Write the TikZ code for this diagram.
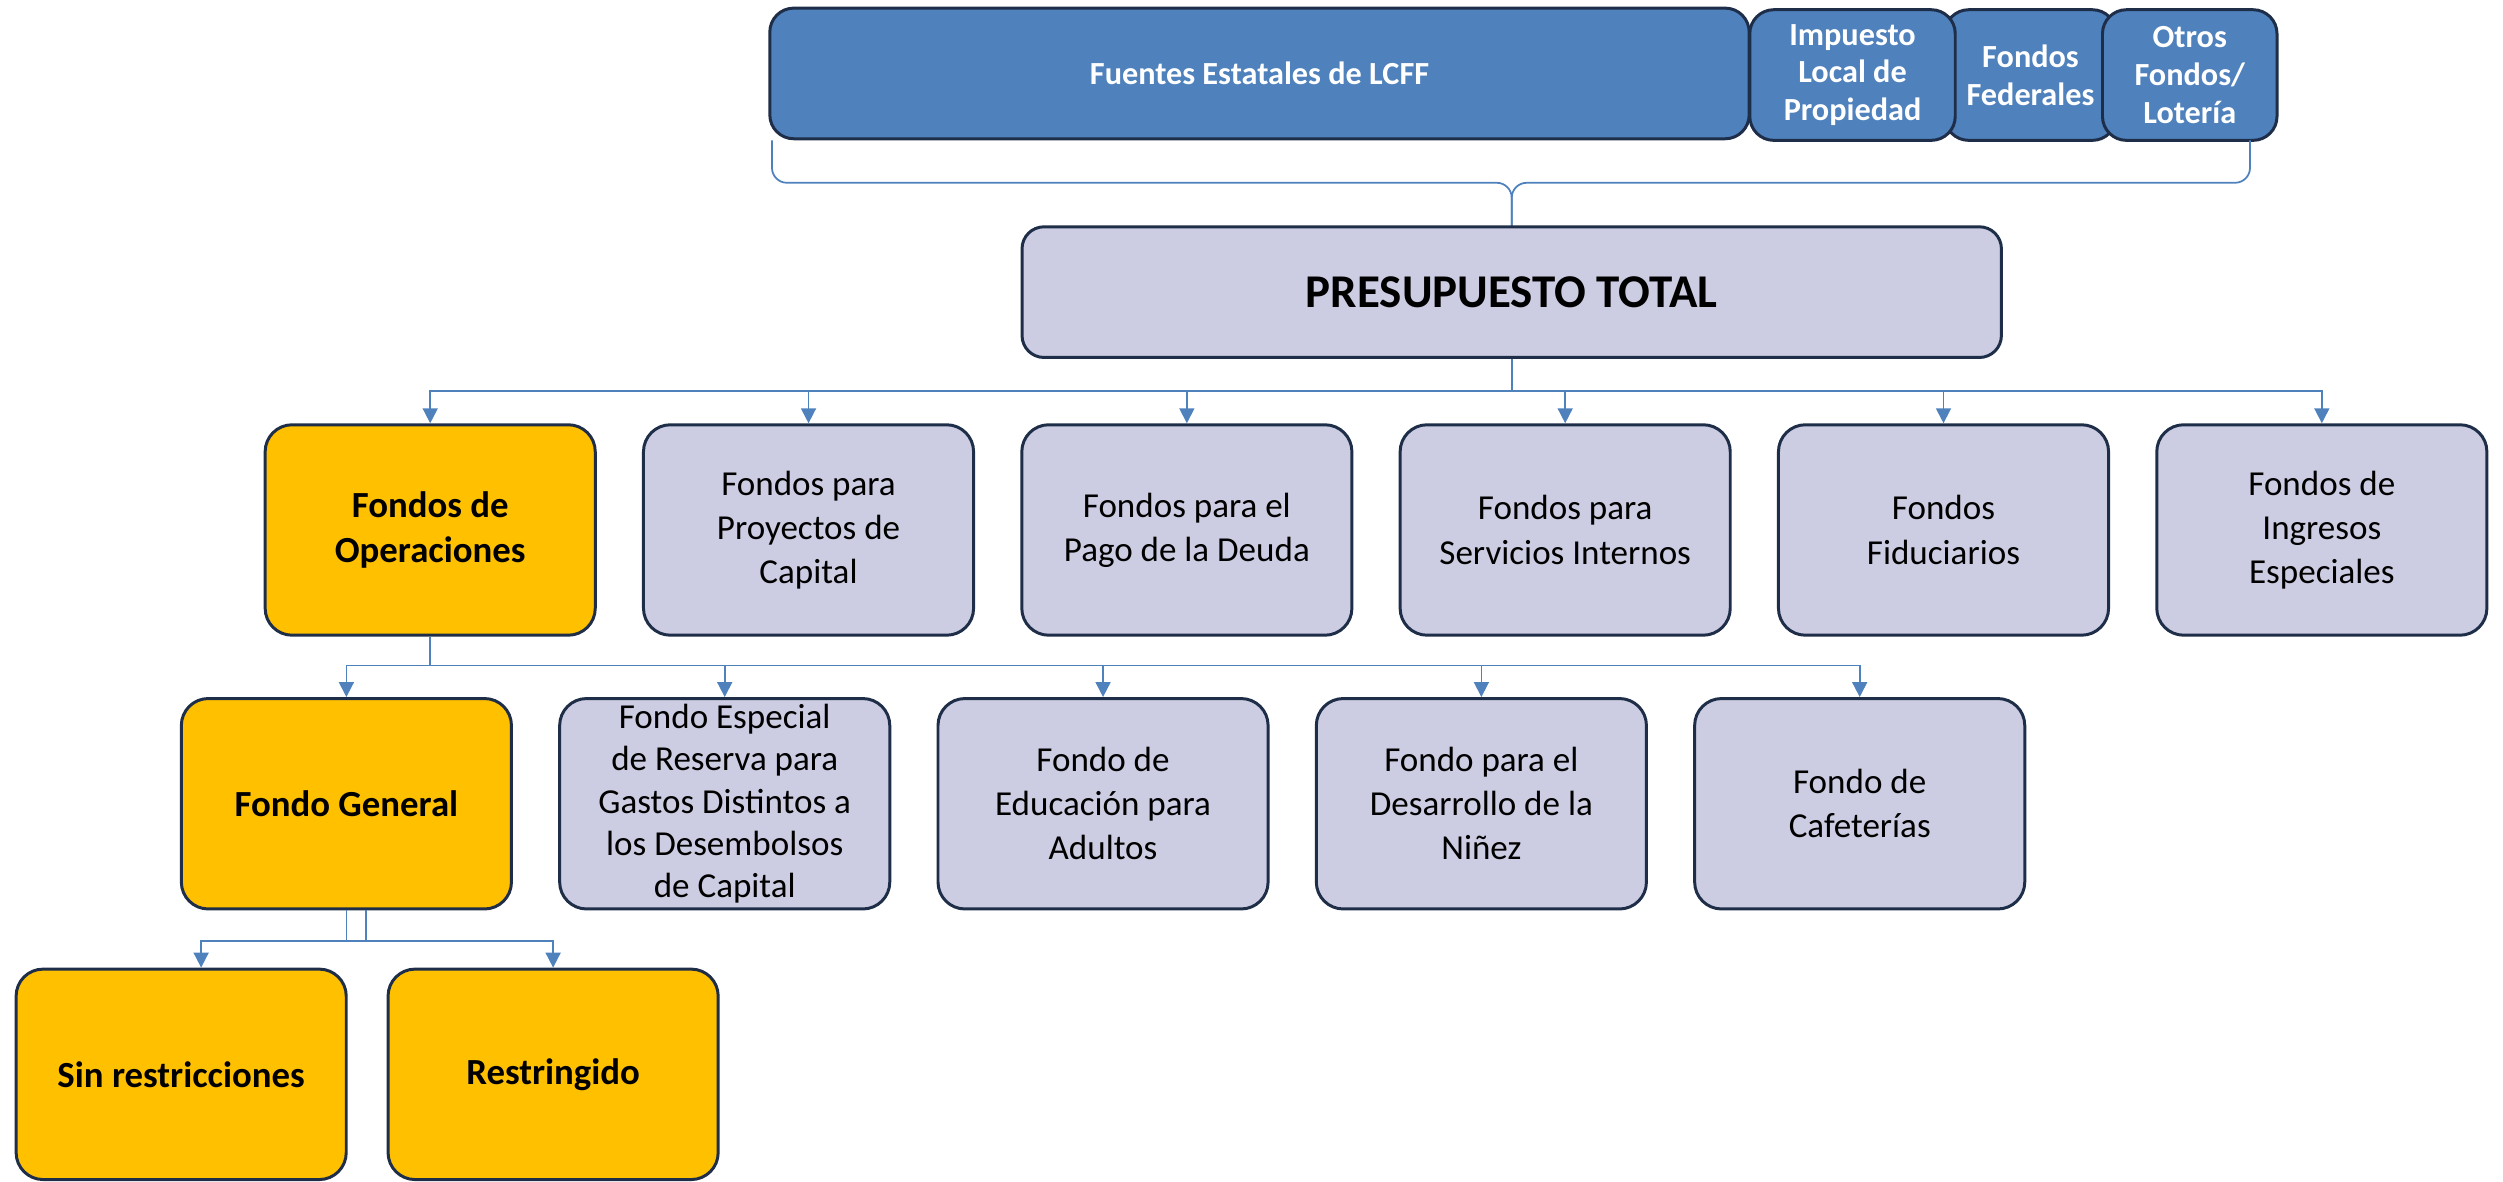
\documentclass[tikz,border=0pt]{standalone}
\usepackage{fontspec}
\setmainfont{Carlito}
\usepackage{tikz}
\usetikzlibrary{arrows.meta}
\definecolor{srcblue}{RGB}{79,129,189}
\definecolor{boxline}{RGB}{31,46,72}
\definecolor{lilac}{RGB}{204,204,226}
\definecolor{opgold}{RGB}{255,192,0}

\begin{document}
\begin{tikzpicture}[x=0.016cm,y=-0.016cm,
  fund/.style={draw=boxline,line width=0.85pt,rounded corners=0.27cm,minimum width=3.31cm,minimum height=2.11cm,align=center,inner sep=0pt,font=\fontsize{10}{12.6}\selectfont},
  plain/.style={fund,fill=lilac},
  gold/.style={fund,fill=opgold,font=\fontsize{10.5}{12.8}\selectfont\bfseries},
  src/.style={draw=boxline,line width=0.85pt,rounded corners=0.24cm,fill=srcblue,text=white,minimum height=1.31cm,align=center,inner sep=0pt,font=\fontsize{9.2}{10.8}\selectfont\bfseries},
  link/.style={draw=srcblue,line width=0.5pt,-{Triangle[length=1.5mm,width=1.5mm]}},
  brace/.style={draw=srcblue,line width=0.5pt,rounded corners=0.15cm}]
			\useasboundingbox (0,0) rectangle (1568,740);
			\coordinate (s1) at (789,46);
			\coordinate (s2) at (1160.5,47);
			\coordinate (s3) at (1272,47);
			\coordinate (s4) at (1371.75,47);
			\coordinate (t0) at (947,183);
			\coordinate (f1) at (269.5,332);
			\coordinate (f2) at (506.5,332);
			\coordinate (f3) at (743.5,332);
			\coordinate (f4) at (980.5,332);
			\coordinate (f5) at (1217.5,332);
			\coordinate (f6) at (1454.5,332);
			\coordinate (g1) at (217,503.5);
			\coordinate (g2) at (454,503.5);
			\coordinate (g3) at (691,503.5);
			\coordinate (g4) at (928,503.5);
			\coordinate (g5) at (1165,503.5);
			\coordinate (r1) at (113.5,673);
			\coordinate (r2) at (346.5,673);
			\coordinate (bl) at (483.6,88);
			\coordinate (br) at (1409.5,88);
			\coordinate (bm) at (947,114.5);

			% sources
			\node (fue) at (s1) [src,minimum width=9.82cm] {Fuentes Estatales de LCFF};
			\node (fed) at (s3) [src,minimum width=1.72cm] {Fondos\\Federales};
			\node (imp) at (s2) [src,minimum width=2.06cm] {Impuesto\\Local de\\Propiedad};
			\node (otr) at (s4) [src,minimum width=1.75cm] {Otros\\Fondos/\\Lotería};
			\draw[brace] (bl) |- (bm) -- (t0 |- 0,142);
			\draw[brace] (br) |- (bm) -- (t0 |- 0,142);

			\node (tot) at (t0) [draw=boxline,line width=0.85pt,rounded corners=0.22cm,fill=lilac,minimum width=9.82cm,minimum height=1.31cm,font=\fontsize{13.4}{15}\selectfont\bfseries] {PRESUPUESTO TOTAL};

			% funds
			\node (ope) at (f1) [gold] {Fondos de\\Operaciones};
			\node (cap) at (f2) [plain] {Fondos para\\Proyectos de\\Capital};
			\node (deu) at (f3) [plain] {Fondos para el\\Pago de la Deuda};
			\node (ser) at (f4) [plain] {Fondos para\\Servicios Internos};
			\node (fid) at (f5) [plain] {Fondos\\Fiduciarios};
			\node (ing) at (f6) [plain] {Fondos de\\Ingresos\\Especiales};
			\draw[link] (tot.south) -- ++(0,20) -| (ope.north);
			\draw[link] (tot.south) -- ++(0,20) -| (cap.north);
			\draw[link] (tot.south) -- ++(0,20) -| (deu.north);
			\draw[link] (tot.south) -- ++(0,20) -| (ser.north);
			\draw[link] (tot.south) -- ++(0,20) -| (fid.north);
			\draw[link] (tot.south) -- ++(0,20) -| (ing.north);

			% operating funds
			\node (gen) at (g1) [gold] {Fondo General};
			\node (esp) at (g2) [plain,font=\fontsize{10}{12.1}\selectfont] {Fondo Especial\\de Reserva para\\Gastos Distintos a\\los Desembolsos\\de Capital};
			\node (adu) at (g3) [plain] {Fondo de\\Educación para\\Adultos};
			\node (nin) at (g4) [plain] {Fondo para el\\Desarrollo de la\\Niñez};
			\node (caf) at (g5) [plain] {Fondo de\\Cafeterías};
			\draw[link] (ope.south) -- ++(0,18) -| (gen.north);
			\draw[link] (ope.south) -- ++(0,18) -| (esp.north);
			\draw[link] (ope.south) -- ++(0,18) -| (adu.north);
			\draw[link] (ope.south) -- ++(0,18) -| (nin.north);
			\draw[link] (ope.south) -- ++(0,18) -| (caf.north);

			% general fund
			\node (sin) at (r1) [gold] {Sin restricciones};
			\node (res) at (r2) [gold] {Restringido};
			\draw[link] ([xshift=0.2cm]gen.south) -- ++(0,19) -| ([xshift=0.2cm]sin.north);
			\draw[link] (gen.south) -- ++(0,19) -| (res.north);
		\end{tikzpicture}
\end{document}
